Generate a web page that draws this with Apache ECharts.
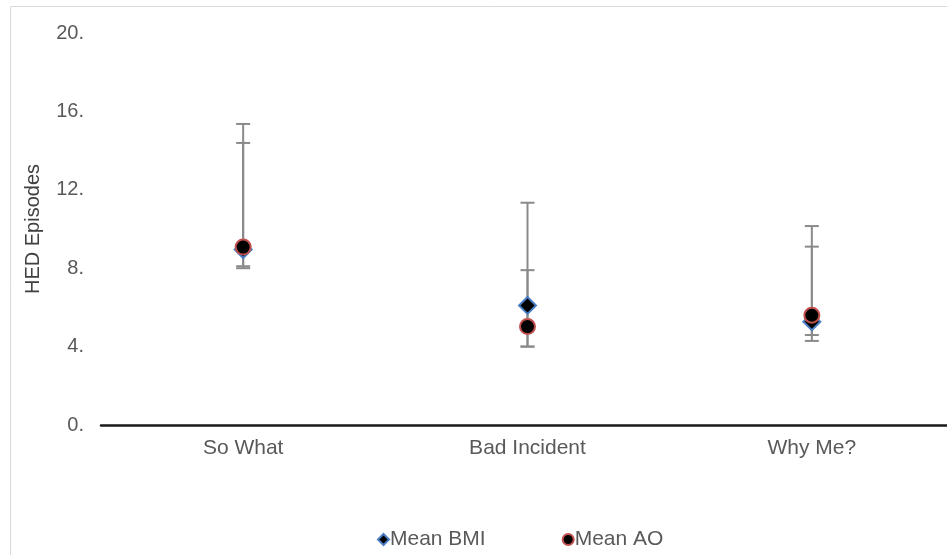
<!DOCTYPE html>
<html>
<head>
<meta charset="utf-8">
<script src="https://cdn.jsdelivr.net/npm/echarts@6/dist/echarts.min.js"></script>
<style>
  html, body { margin: 0; padding: 0; background: #fff; overflow: hidden; }
  #main { width: 970px; height: 555px; }
</style>
</head>
<body>
<div id="main"></div>
<script>
// categories and values
var categories = ['So What', 'Bad Incident', 'Why Me?']
var meanBMI = [8.95, 6.1, 5.27]
var meanAO = [9.08, 5.02, 5.6]
// error bar ends [low, high]
var bmiLow = [8.0, 4.0, 4.29]
var bmiHigh = [15.36, 11.34, 10.15]
var aoLow = [8.1, 4.0, 4.59]
var aoHigh = [14.39, 7.9, 9.1]
var yTicks = [0, 4, 8, 12, 16, 20]

var chart = echarts.init(document.getElementById('main'))

function errData(low, high) {
  return categories.map(function(c, i) { return [i, low[i], high[i]] })
}

function renderErr(params, api) {
  var x = api.value(0)
  var lo = api.coord([x, api.value(1)])
  var hi = api.coord([x, api.value(2)])
  var half = 7
  var style = { stroke: '#8a8a8a', lineWidth: 2 }
  return {
    type: 'group',
    children: [
      { type: 'line', shape: { x1: lo[0], y1: lo[1], x2: hi[0], y2: hi[1] }, style: style },
      { type: 'line', shape: { x1: lo[0] - half, y1: lo[1], x2: lo[0] + half, y2: lo[1] }, style: style },
      { type: 'line', shape: { x1: hi[0] - half, y1: hi[1], x2: hi[0] + half, y2: hi[1] }, style: style }
    ]
  }
}

chart.setOption({
  animation: false,
  textStyle: { fontFamily: 'Liberation Sans, Arial, sans-serif' },
  grid: { left: 101, top: 33, width: 853, height: 392 },
  graphic: [
    {
      type: 'rect',
      shape: { x: 10.5, y: 6.5, width: 980, height: 600 },
      style: { fill: 'none', stroke: '#d9d9d9', lineWidth: 1 },
      silent: true
    }
  ],
  legend: {
    bottom: 0,
    left: 372,
    itemGap: 76,
    itemWidth: 11,
    itemHeight: 11,
    textStyle: { color: '#595959', fontSize: 21, padding: [0, 0, 0, -4] },
    data: ['Mean BMI', 'Mean AO']
  },
  xAxis: {
    type: 'category',
    data: categories,
    boundaryGap: true,
    axisLine: { lineStyle: { color: '#1a1a1a', width: 2.5 } },
    axisTick: { show: false },
    axisLabel: { color: '#595959', fontSize: 21, margin: 13 }
  },
  yAxis: {
    type: 'value',
    min: yTicks[0],
    max: yTicks[yTicks.length - 1],
    interval: 4,
    name: 'HED Episodes',
    nameLocation: 'middle',
    nameGap: 58,
    nameTextStyle: { color: '#404040', fontSize: 20 },
    axisLine: { show: false },
    axisTick: { show: false },
    splitLine: { show: false },
    axisLabel: {
      color: '#595959',
      fontSize: 20,
      margin: 17,
      formatter: function(v) { return v + '.' }
    }
  },
  series: [
    {
      name: 'BMI error',
      type: 'custom',
      renderItem: renderErr,
      encode: { x: 0, y: [1, 2] },
      data: errData(bmiLow, bmiHigh),
      z: 1
    },
    {
      name: 'AO error',
      type: 'custom',
      renderItem: renderErr,
      encode: { x: 0, y: [1, 2] },
      data: errData(aoLow, aoHigh),
      z: 1
    },
    {
      name: 'Mean BMI',
      type: 'scatter',
      symbol: 'diamond',
      symbolSize: 17,
      data: meanBMI,
      itemStyle: { color: '#000', opacity: 1, borderColor: '#4a7ec4', borderWidth: 2 },
      z: 3
    },
    {
      name: 'Mean AO',
      type: 'scatter',
      symbol: 'circle',
      symbolSize: 15,
      data: meanAO,
      itemStyle: { color: '#000', opacity: 1, borderColor: '#c0504d', borderWidth: 2 },
      z: 4
    }
  ]
})
</script>
</body>
</html>
